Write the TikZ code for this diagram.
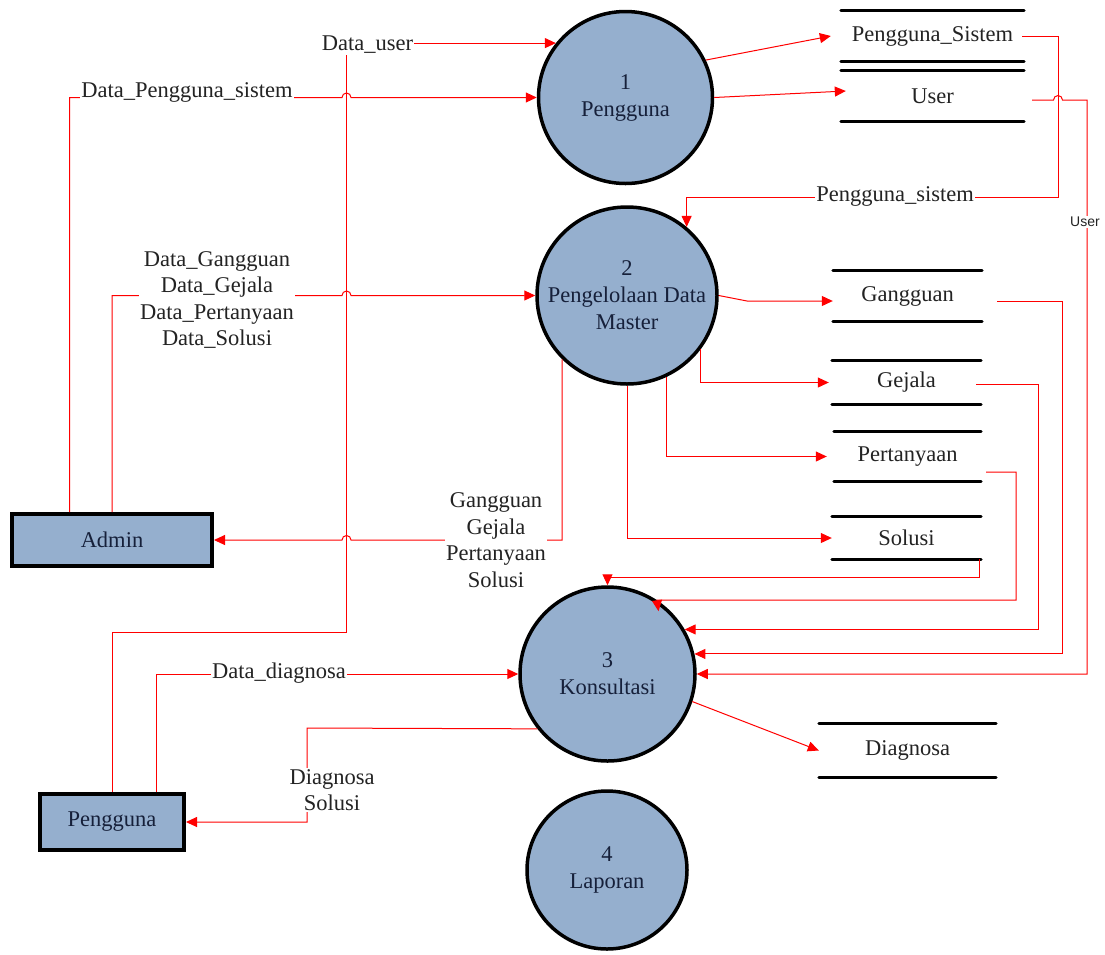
\documentclass[tikz,border=0pt]{standalone}
\usepackage{fontspec}
\setmainfont{Liberation Serif}
\newfontfamily\lsans{Liberation Sans}
\usetikzlibrary{shapes.geometric,arrows.meta,calc}
\definecolor{procblue}{RGB}{149,175,206}
\definecolor{navy}{RGB}{22,32,58}
\definecolor{labgray}{RGB}{35,35,35}
\begin{document}
\begin{tikzpicture}[x=1pt,y=-1pt,
  proc/.style={ellipse, draw=black, line width=3.5pt, fill=procblue, inner sep=0pt},
  proctext/.style={text=navy, inner sep=0pt, align=center, font=\fontsize{22.5}{27}\selectfont},
  ent/.style={rectangle, draw=black, line width=4pt, fill=procblue, text=navy, inner sep=0pt, font=\fontsize{22.5}{27}\selectfont},
  store/.style={rectangle, draw=none, inner sep=0pt, text=labgray, font=\fontsize{22.5}{27}\selectfont},
  storeline/.style={draw=black, line width=3pt, line cap=round},
  flow/.style={draw=red, line width=1pt, -{Triangle[length=11pt,width=10pt]}},
  lab/.style={fill=white, inner sep=1pt, text=labgray, align=center, font=\fontsize{22.5}{26.5}\selectfont}
]
\useasboundingbox (0,0) rectangle (1105,954);

% processes
\node[proc, minimum width=174pt, minimum height=172pt] (c1) at (625.5,97.5) {};
\node[proctext] (c1t) at (c1) {1\\Pengguna};
\node[proc, minimum width=180pt, minimum height=177pt] (c2) at (627,295.5) {};
\node[proctext] (c2t) at (c2) {2\\Pengelolaan Data\\Master};
\node[proc, minimum width=175pt, minimum height=174pt] (c3) at (607.5,674) {};
\node[proctext] (c3t) at (c3) {3\\Konsultasi};
\node[proc, minimum width=160pt, minimum height=158pt] (c4) at (607,870) {};
\node[proctext] (c4t) at (c4) {4\\Laporan};

% external entities
\node[ent, minimum width=200pt, minimum height=52pt] (adm) at (112,540) {Admin};
\node[ent, minimum width=144pt, minimum height=56pt] (pg) at (112,822) {Pengguna};

% data stores
\node[store, minimum width=183pt, minimum height=50pt] (sPS) at (932.5,36) {Pengguna\_Sistem};
\node[store, minimum width=183pt, minimum height=50pt] (sUser) at (932.5,96) {User};
\node[store, minimum width=149pt, minimum height=50pt] (sGang) at (907.5,296) {Gangguan};
\node[store, minimum width=149pt, minimum height=43pt] (sGej) at (906.5,382.5) {Gejala};
\node[store, minimum width=147pt, minimum height=49pt] (sPer) at (907.5,456.5) {Pertanyaan};
\node[store, minimum width=149pt, minimum height=42pt] (sSol) at (906.5,538) {Solusi};
\node[store, minimum width=177pt, minimum height=53pt] (sDiag) at (907.5,750.5) {Diagnosa};
\foreach \s in {sPS,sUser,sGang,sGej,sPer,sSol,sDiag} {
  \draw[storeline] (\s.north west) -- (\s.north east);
  \draw[storeline] (\s.south west) -- (\s.south east);
}

% flows
\draw[flow] (pg.north) |- (346.5,632) |- (c1.142);
\draw[flow] ([xshift=-42.5pt]adm.north) |- (342,97.5) arc[start angle=180,end angle=0,radius=4.5pt] -- (c1.west);
\draw[flow] (adm.north) |- (342,295.5) arc[start angle=180,end angle=0,radius=4.5pt] -- (c2.west);
\draw[flow] (c2.south west) |- (351,540) arc[start angle=0,end angle=180,radius=4.5pt] -- (adm.east);
\draw[flow] (c1.25) -- ([xshift=-10pt]sPS.west);
\draw[flow] (c1.east) -- ([xshift=5pt,yshift=5pt]sUser.west);
\draw[flow] ([xshift=-2pt]sPS.east) -- (1058,36) -- (1058,197) -| (c2.49);
\draw[flow] ([xshift=8pt,yshift=-4pt]sUser.east) -- (1053.5,100) arc[start angle=180,end angle=0,radius=4.5pt] -- (1087,100) |- (c3.east);
\draw[flow] (c2.east) -- (747,301) -- ([yshift=-5pt]sGang.west);
\draw[flow] (c2.-36) |- ([xshift=-3pt]sGej.west);
\draw[flow] (c2.-64) |- ([xshift=-7pt]sPer.west);
\draw[flow] (c2.south) |- (sSol.west);
\draw[flow] ([xshift=15pt,yshift=-5pt]sGang.east) -- (1062,301) |- (c3.13);
\draw[flow] ([xshift=-5pt,yshift=-1.5pt]sGej.east) -- (1038,384) |- (c3.30);
\draw[flow] ([xshift=5pt,yshift=-15.5pt]sPer.east) -- (1016,472) |- (657,600) -- ([yshift=-10pt]c3.55);
\draw[flow] ([xshift=-2pt]sSol.south east) -- ++(0,18) -| (c3.north);
\draw[flow] ([xshift=44pt]pg.north) |- (c3.west);
\draw[flow] (c3.218) -- (307,728) |- (pg.east);
\draw[flow] (c3.-18) -- (sDiag.west);

% labels
\node[lab] (lDU) at (367.5,45) {Data\_user};
\node[lab] (lDPS) at (187,92) {Data\_Pengguna\_sistem};
\node[lab] (lDG) at (217,300) {Data\_Gangguan\\Data\_Gejala\\Data\_Pertanyaan\\Data\_Solusi};
\node[lab] (lGG) at (496,540) {Gangguan\\Gejala\\Pertanyaan\\Solusi};
\node[lab] (lPS) at (895,196) {Pengguna\_sistem};
\node[lab, font=\lsans\fontsize{14}{16}\selectfont] (lU) at (1085,222) {User};
\node[lab] (lDD) at (279,673) {Data\_diagnosa};
\node[lab] (lDS) at (332,790) {Diagnosa\\Solusi};
\end{tikzpicture}
\end{document}
